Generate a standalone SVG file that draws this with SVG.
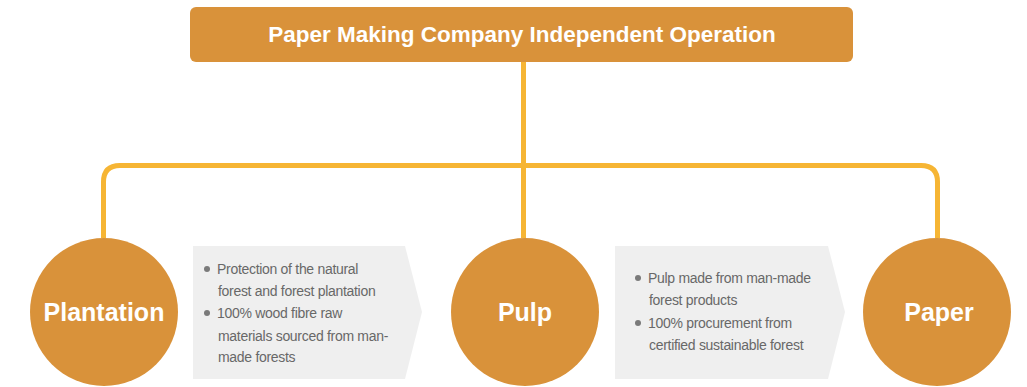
<svg xmlns="http://www.w3.org/2000/svg" width="1027" height="387" viewBox="0 0 1027 387">
<style>
.conn{fill:none;stroke:#F6B534;stroke-width:5;}
.node{fill:#D9923A;}
.ttl{font-family:"Liberation Sans",Arial,sans-serif;font-weight:bold;fill:#fff;text-anchor:middle;}
.call{fill:#EFEFEF;}
.body{font-family:"Liberation Sans",Arial,sans-serif;font-size:14px;fill:#686868;letter-spacing:-0.3px;}
.dot{fill:#7a7a7a;}
</style>
<rect width="1027" height="387" fill="#ffffff"/>
<g id="connectors">
<path class="conn" d="M523.5 62 V165.5"/>
<path class="conn" d="M103.5 238 V182 Q103.5 165.5 120 165.5 H921 Q937.5 165.5 937.5 182 V238"/>
<path class="conn" d="M523.5 165.5 V238"/>
</g>
<g id="top">
<rect class="node" x="190" y="7" width="663" height="55" rx="6"/>
<text class="ttl" x="522" y="42" font-size="22.5">Paper Making Company Independent Operation</text>
</g>
<g id="plantation">
<circle class="node" cx="104" cy="312" r="74"/>
<text class="ttl" x="104" y="321" font-size="25">Plantation</text>
</g>
<g id="pulp">
<circle class="node" cx="525" cy="312" r="74"/>
<text class="ttl" x="525" y="321" font-size="25">Pulp</text>
</g>
<g id="paper">
<circle class="node" cx="937" cy="312" r="74"/>
<text class="ttl" x="939" y="321" font-size="25">Paper</text>
</g>
<g id="callout1">
<polygon class="call" points="193,246 405,246 422,312 405,379 193,379"/>
<circle class="dot" cx="207" cy="269" r="3"/>
<circle class="dot" cx="207" cy="313" r="3"/>
<text class="body"><tspan x="217" y="274">Protection of the natural</tspan><tspan x="218" y="296">forest and forest plantation</tspan><tspan x="217" y="318">100% wood fibre raw</tspan><tspan x="218" y="341">materials sourced from man-</tspan><tspan x="218" y="362">made forests</tspan></text>
</g>
<g id="callout2">
<polygon class="call" points="615,246 828,246 845,312 828,379 615,379"/>
<circle class="dot" cx="638" cy="278" r="3"/>
<circle class="dot" cx="638" cy="323" r="3"/>
<text class="body"><tspan x="648" y="283">Pulp made from man-made</tspan><tspan x="649" y="305">forest products</tspan><tspan x="648" y="328">100% procurement from</tspan><tspan x="649" y="350">certified sustainable forest</tspan></text>
</g>
</svg>
